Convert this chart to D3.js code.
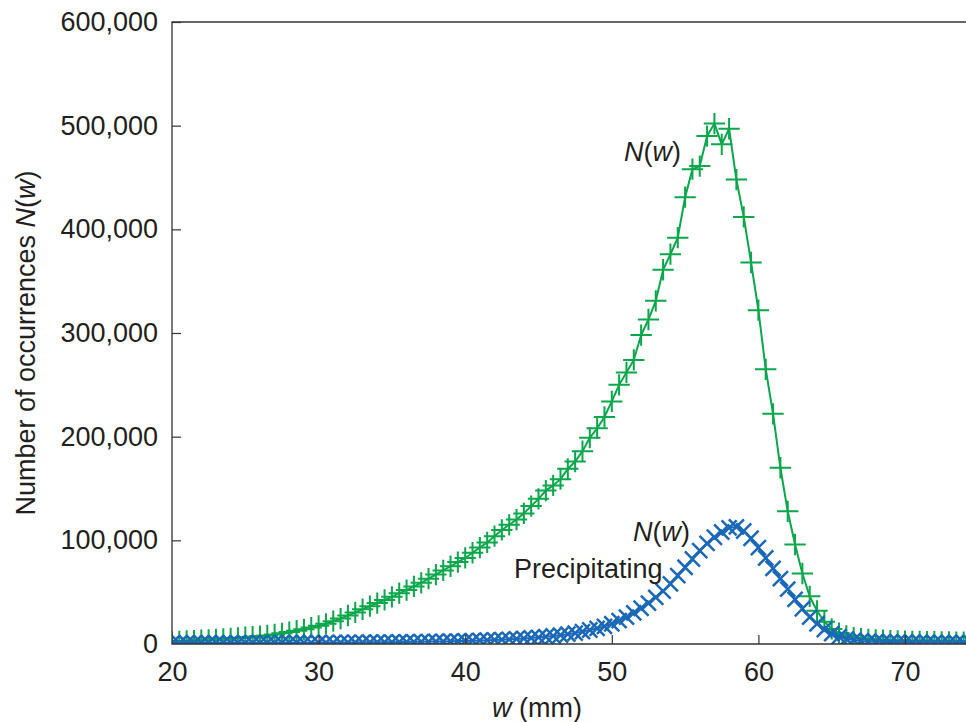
<!DOCTYPE html>
<html>
<head>
<meta charset="utf-8">
<script src="https://cdn.jsdelivr.net/npm/d3@7"></script>
<style>
  body { margin: 0; background: #fff; }
  svg { display: block; }
  text { font-family: "Liberation Sans", Arial, sans-serif; fill: #231f20; }
</style>
</head>
<body>
<svg width="966" height="722"></svg>
<script>
// w values (mm), one bin every 0.5 mm
var wValues = [20, 20.5, 21, 21.5, 22, 22.5, 23, 23.5, 24, 24.5, 25, 25.5, 26, 26.5, 27, 27.5, 28, 28.5, 29, 29.5,
  30, 30.5, 31, 31.5, 32, 32.5, 33, 33.5, 34, 34.5, 35, 35.5, 36, 36.5, 37, 37.5, 38, 38.5, 39, 39.5,
  40, 40.5, 41, 41.5, 42, 42.5, 43, 43.5, 44, 44.5, 45, 45.5, 46, 46.5, 47, 47.5, 48, 48.5, 49, 49.5,
  50, 50.5, 51, 51.5, 52, 52.5, 53, 53.5, 54, 54.5, 55, 55.5, 56, 56.5, 57, 57.5, 58, 58.5, 59, 59.5,
  60, 60.5, 61, 61.5, 62, 62.5, 63, 63.5, 64, 64.5, 65, 65.5, 66, 66.5, 67, 67.5, 68, 68.5, 69, 69.5,
  70, 70.5, 71, 71.5, 72, 72.5, 73, 73.5, 74, 74.5];

// N(w), all cases
var allCounts = [2000, 2500, 3000, 3300, 3600, 4000, 4400, 4800, 5300, 5900,
  6500, 7000, 7600, 8300, 9200, 10300, 11500, 12800, 14200, 15800,
  17500, 19500, 22000, 24500, 27500, 30500, 33500, 36500, 39500, 42500,
  45500, 49000, 52000, 55500, 59000, 63000, 67000, 71000, 75000, 79000,
  83000, 88000, 93000, 98000, 104000, 110000, 115000, 120000, 126000, 133000,
  140000, 148000, 153000, 159000, 169000, 176000, 186000, 199000, 208000, 219000,
  234000, 250000, 262000, 274000, 298000, 313000, 331000, 361000, 376000, 392000,
  431000, 458000, 461000, 490000, 502000, 482000, 497000, 448000, 412000, 368000,
  322000, 265000, 222000, 170000, 128000, 96000, 68000, 46000, 32000, 21500,
  14500, 10500, 7800, 6200, 5200, 4500, 4000, 3600, 3300, 3000,
  2800, 2600, 2400, 2300, 2200, 2100, 2000, 1900, 1800, 1700];

// N(w), precipitating cases
var precipCounts = [900, 900, 950, 950, 1000, 1000, 1000, 1050, 1050, 1100,
  1100, 1100, 1150, 1150, 1200, 1200, 1250, 1250, 1300, 1300,
  1350, 1400, 1400, 1450, 1500, 1550, 1600, 1650, 1700, 1750,
  1800, 1900, 2000, 2100, 2200, 2300, 2400, 2500, 2650, 2800,
  3000, 3200, 3400, 3600, 3900, 4200, 4500, 4900, 5300, 5800,
  6400, 7000, 7700, 8500, 9500, 10500, 12000, 13500, 15000, 17000,
  19500, 22500, 26000, 30000, 34500, 39500, 45000, 51000, 58000, 66000,
  74000, 82000, 90000, 97000, 103000, 108000, 112000, 113000, 109000, 102000,
  93000, 83000, 73000, 63000, 53000, 43000, 34000, 26000, 19500, 14000,
  10000, 7000, 5000, 3800, 3000, 2500, 2200, 2000, 1900, 1800,
  1700, 1600, 1500, 1450, 1400, 1350, 1300, 1250, 1200, 1200];

var xTicks = [20, 30, 40, 50, 60, 70];
var yTicks = [0, 100000, 200000, 300000, 400000, 500000, 600000];

(function () {
  var svg = d3.select("svg");
  var plotLeft = 172, plotTop = 22, plotBottom = 644, plotRight = 966;

  var x = d3.scaleLinear().domain([20, 80]).range([plotLeft, plotLeft + 60 * 14.66]);
  var y = d3.scaleLinear().domain([0, 600000]).range([plotBottom, plotTop]);

  svg.append("clipPath").attr("id", "plot")
    .append("rect").attr("x", plotLeft).attr("y", plotTop)
    .attr("width", plotRight - plotLeft).attr("height", plotBottom - plotTop);

  var green = "#0aa74b", blue = "#1a68b8";

  function series(counts, color, shape, size, sw) {
    var pts = wValues.map((w, i) => [w, counts[i]]);
    var g = svg.append("g").attr("clip-path", "url(#plot)");
    g.append("path")
      .datum(pts)
      .attr("fill", "none")
      .attr("stroke", color)
      .attr("stroke-width", 2)
      .attr("d", d3.line().x(d => x(d[0])).y(d => y(d[1])));
    g.selectAll("path.mk")
      .data(pts)
      .enter().append("path")
      .attr("class", "mk")
      .attr("transform", d => "translate(" + x(d[0]) + "," + y(d[1]) + ")")
      .attr("d", d3.symbol(shape, size))
      .attr("fill", "none")
      .attr("stroke", color)
      .attr("stroke-width", sw);
  }

  series(allCounts, green, d3.symbolPlus, 150, 2);
  series(precipCounts, blue, d3.symbolTimes, 150, 2.5);

  // axes
  var yAxis = d3.axisLeft(y).tickValues(yTicks).tickSize(-9).tickPadding(14)
    .tickFormat(d3.format(","));
  var yg = svg.append("g").attr("transform", "translate(" + plotLeft + ",0)").call(yAxis);

  var xAxis = d3.axisBottom(x).tickValues(xTicks).tickSize(-9).tickPadding(18);
  var xg = svg.append("g").attr("transform", "translate(0," + plotBottom + ")").call(xAxis);

  [yg, xg].forEach(g => {
    g.select(".domain").remove();
    g.selectAll(".tick line").attr("stroke", "#333").attr("stroke-width", 1.2);
    g.selectAll(".tick text").attr("font-size", 27).attr("fill", "#231f20")
      .attr("font-family", "'Liberation Sans', Arial, sans-serif");
  });
  yg.selectAll(".tick").filter(d => d === 0).select("line").remove();
  xg.selectAll(".tick").filter(d => d === 20).select("line").remove();

  // frame: left, top, bottom
  svg.append("path")
    .attr("d", d3.line()([[plotRight, plotTop], [plotLeft, plotTop], [plotLeft, plotBottom], [plotRight, plotBottom]]))
    .attr("fill", "none")
    .attr("stroke", "#333")
    .attr("stroke-width", 1.3);

  // axis titles
  var yl = svg.append("text")
    .attr("transform", "translate(35,343) rotate(-90)")
    .attr("text-anchor", "middle")
    .attr("font-size", 27);
  yl.append("tspan").text("Number of occurrences ");
  yl.append("tspan").attr("font-style", "italic").text("N");
  yl.append("tspan").text("(");
  yl.append("tspan").attr("font-style", "italic").text("w");
  yl.append("tspan").text(")");

  var xl = svg.append("text")
    .attr("x", 537).attr("y", 717)
    .attr("text-anchor", "middle")
    .attr("font-size", 27);
  xl.append("tspan").attr("font-style", "italic").text("w");
  xl.append("tspan").text(" (mm)");

  // curve labels
  function nw(px, py) {
    var t = svg.append("text").attr("x", px).attr("y", py).attr("font-size", 27);
    t.append("tspan").attr("font-style", "italic").text("N");
    t.append("tspan").text("(");
    t.append("tspan").attr("font-style", "italic").text("w");
    t.append("tspan").text(")");
  }
  nw(624, 161);
  nw(633, 541);
  svg.append("text").attr("x", 514).attr("y", 578).attr("font-size", 27).text("Precipitating");
})();
</script>
</body>
</html>
